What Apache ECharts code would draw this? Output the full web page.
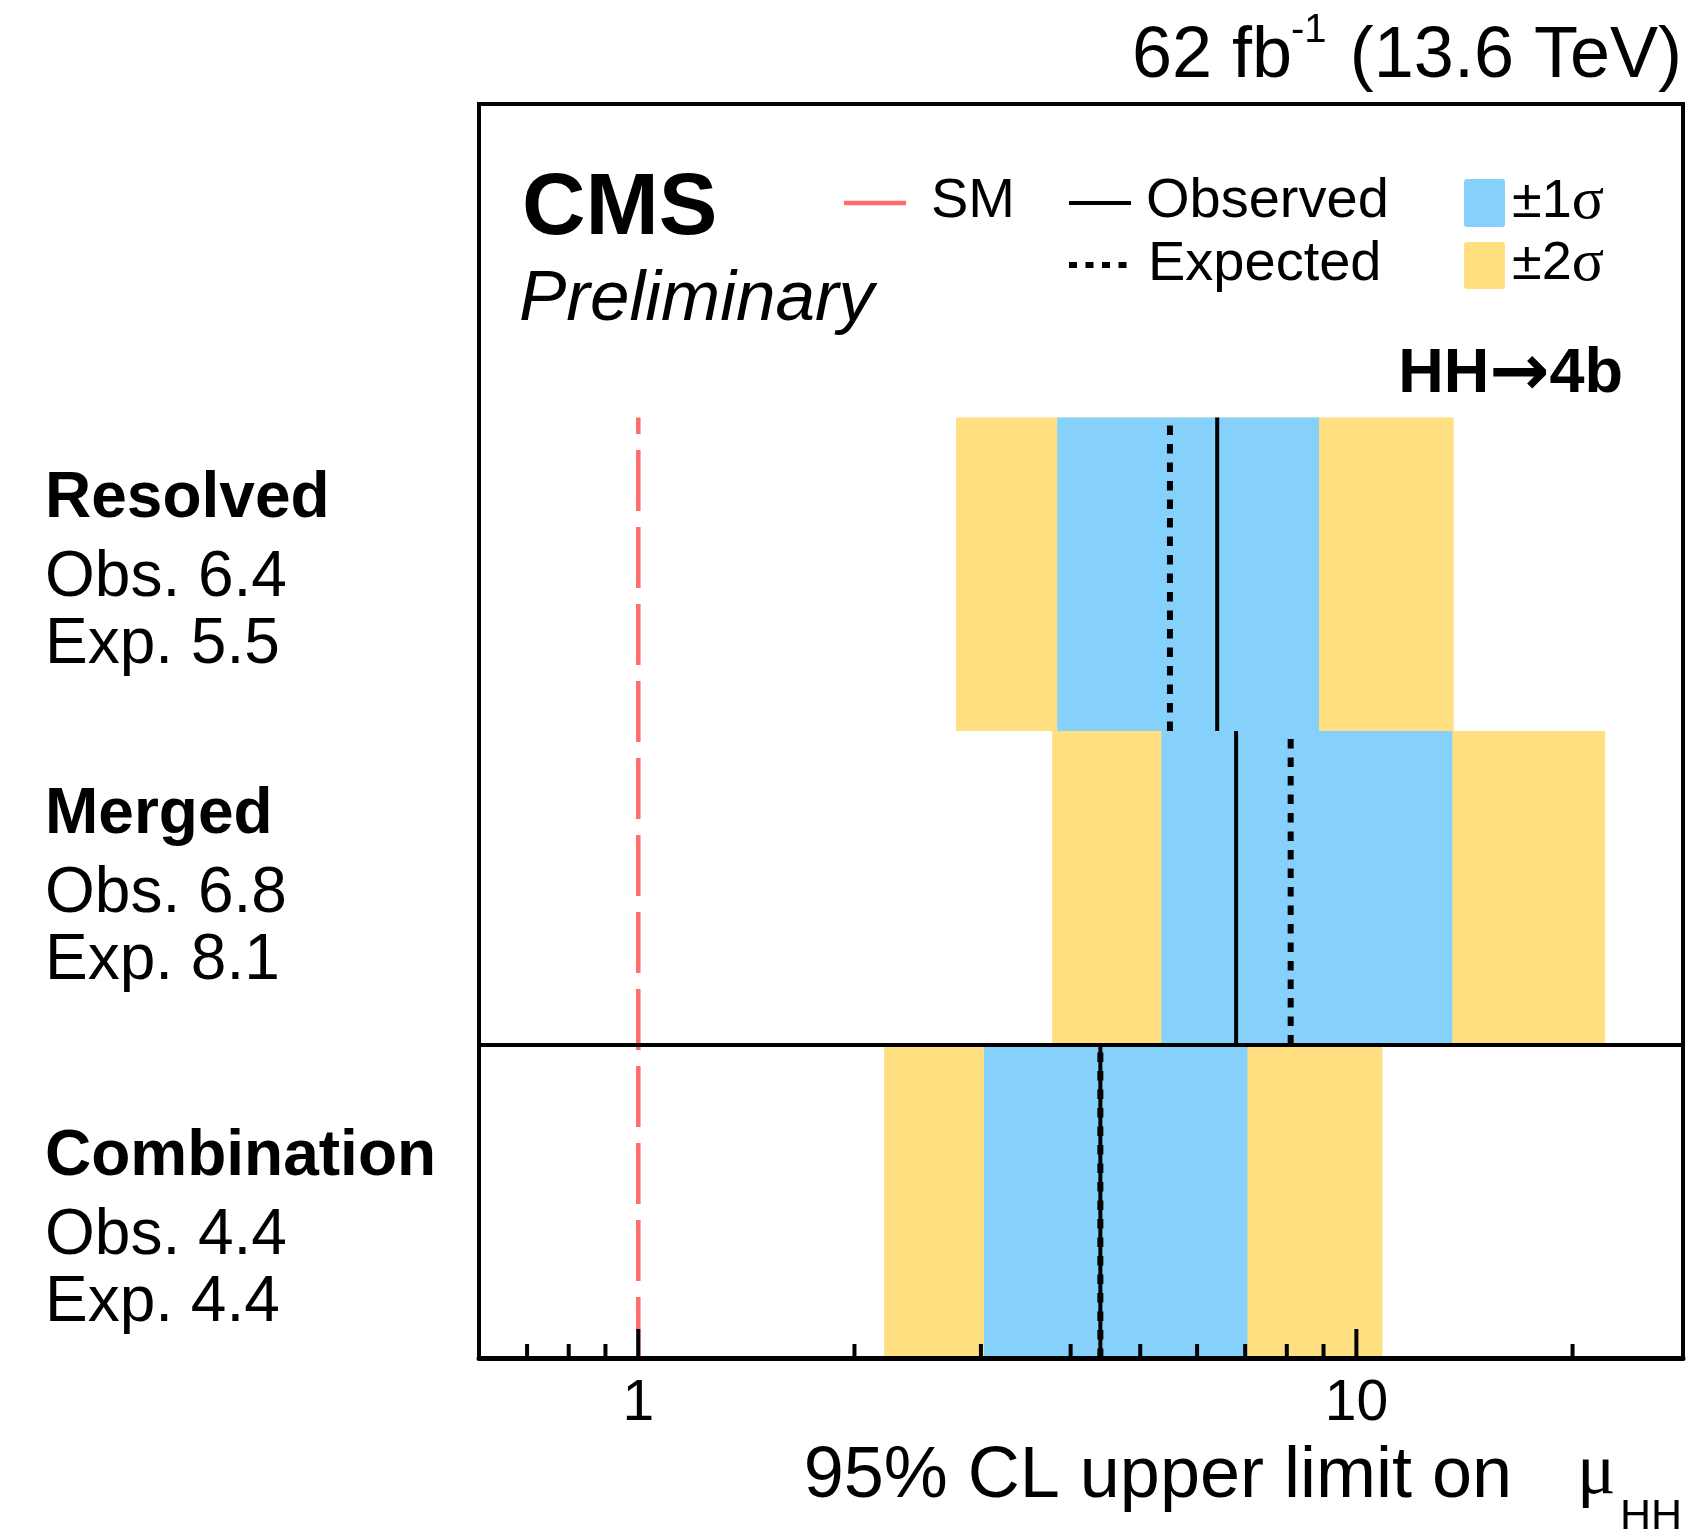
<!DOCTYPE html>
<html>
<head>
<meta charset="utf-8">
<script src="https://cdn.jsdelivr.net/npm/echarts@6/dist/echarts.min.js"></script>
<style>
  html, body { margin: 0; padding: 0; background: #fff; }
  #chart { width: 1696px; height: 1533px; }
</style>
</head>
<body>
<div id="chart"></div>
<script>
// ---- data (rows listed bottom to top) ----
const categories = ['Combination', 'Merged', 'Resolved'];
const observed   = [4.4, 6.8, 6.4];
const expected   = [4.4, 8.1, 5.5];
const band1Lo    = [3.03, 5.35, 3.83];
const band1Hi    = [7.05, 13.6, 8.87];
const band2Lo    = [2.20, 3.77, 2.77];
const band2Hi    = [10.87, 22.2, 13.66];
const smValue    = 1;
const xRange     = [0.6, 28.5];
const majorTicks = [1, 10];
const minorTicks = [0.7, 0.8, 0.9, 2, 3, 4, 5, 6, 7, 8, 9, 20];

// ---- style ----
const BLUE = '#85D1FB';
const YELLOW = '#FFDF7F';
const RED = '#FF6B6B';
const SANS = "'Liberation Sans', Arial, Helvetica, sans-serif";
const SERIF = "'Liberation Serif', 'Times New Roman', serif";
const ARROW_FONT = "'DejaVu Sans', sans-serif";

const chart = echarts.init(document.getElementById('chart'), null, { renderer: 'canvas' });

// text placed by its baseline
function txt(x, baseline, text, size, weight, style, align, family) {
  const font = (style || 'normal') + ' ' + (weight || 'normal') + ' ' + size + 'px ' + (family || SANS);
  return {
    type: 'text', x: x, y: baseline - 0.28 * size, silent: true,
    style: {
      text: text, font: font, fill: '#000',
      align: align || 'left', textAlign: align || 'left',
      verticalAlign: 'middle', textVerticalAlign: 'middle'
    }
  };
}

// mixed-font text placed by its baseline
function richTxt(x, baseline, size, text, rich, align) {
  return {
    type: 'text', x: x, y: baseline - 0.28 * size, silent: true,
    style: {
      text: text, rich: rich,
      align: align || 'left', textAlign: align || 'left',
      verticalAlign: 'middle', textVerticalAlign: 'middle'
    }
  };
}

const graphics = [];
// header
graphics.push(txt(1132, 77, '62 fb', 72));
graphics.push(txt(1291, 42, '-1', 40));
graphics.push(txt(1682, 77, '(13.6 TeV)', 72, 'normal', 'normal', 'right'));
graphics.push(txt(522, 234, 'CMS', 88, 'bold'));
graphics.push(txt(519, 320, 'Preliminary', 71, 'normal', 'italic'));
graphics.push(richTxt(1623, 392, 63, '{a|HH}{r|\u2192}{a|4b}', {
  a: { font: 'bold 63px ' + SANS, fill: '#000', color: '#000' },
  r: { font: 'bold 72px ' + ARROW_FONT, fill: '#000', color: '#000', padding: [4, 0, 0, 0] }
}, 'right'));

// legend
graphics.push({ type: 'line', silent: true, shape: { x1: 844, y1: 203, x2: 906, y2: 203 }, style: { stroke: RED, lineWidth: 4.5 } });
graphics.push(txt(931, 217, 'SM', 56));
graphics.push({ type: 'line', silent: true, shape: { x1: 1069, y1: 203, x2: 1131, y2: 203 }, style: { stroke: '#000', lineWidth: 4 } });
graphics.push(txt(1146, 217, 'Observed', 56));
graphics.push({ type: 'line', silent: true, shape: { x1: 1069, y1: 265, x2: 1131, y2: 265 }, style: { stroke: '#000', lineWidth: 6, lineDash: [8, 8.5] } });
graphics.push(txt(1148, 280, 'Expected', 56));
graphics.push({ type: 'rect', silent: true, shape: { x: 1464, y: 179, width: 41, height: 48, r: 3 }, style: { fill: BLUE } });
graphics.push({ type: 'rect', silent: true, shape: { x: 1464, y: 242, width: 41, height: 47, r: 3 }, style: { fill: YELLOW } });
['\u00b11', '\u00b12'].forEach(function (s, i) {
  const base = i === 0 ? 217 : 279;
  graphics.push(richTxt(1512, base, 54, '{a|' + s + '}{s|\u03c3}', {
    a: { font: 'normal 54px ' + SANS, fill: '#000', color: '#000' },
    s: { font: 'normal 60px ' + SERIF, fill: '#000', color: '#000' }
  }));
});

// row labels on the left
const labelBase = [1175, 833, 517];
categories.forEach(function (name, i) {
  graphics.push(txt(45, labelBase[i], name, 64, 'bold'));
  graphics.push(txt(45, labelBase[i] + 79, 'Obs. ' + observed[i].toFixed(1), 64));
  graphics.push(txt(45, labelBase[i] + 146, 'Exp. ' + expected[i].toFixed(1), 64));
});

// x axis title
graphics.push(txt(1512, 1497, '95% CL upper limit on', 72, 'normal', 'normal', 'right'));
graphics.push(txt(1577, 1494, '\u03bc', 72, 'normal', 'normal', 'left', SERIF));
graphics.push(txt(1620, 1529, 'HH', 43));

// ---- series data ----
const bandData = categories.map(function (c, i) { return [i, band2Lo[i], band1Lo[i], band1Hi[i], band2Hi[i]]; });
const limitData = categories.map(function (c, i) { return [i, observed[i], expected[i]]; });
const tickData = majorTicks.map(function (v) { return [v, 1]; })
  .concat(minorTicks.map(function (v) { return [v, 0]; }));

function renderBands(params, api) {
  const row = api.value(0);
  function rect(a, b, color) {
    const p0 = api.coord([a, row + 1]);
    const p1 = api.coord([b, row]);
    return { type: 'rect', shape: { x: p0[0], y: p0[1], width: p1[0] - p0[0], height: p1[1] - p0[1] }, style: { fill: color } };
  }
  return { type: 'group', children: [
    rect(api.value(1), api.value(4), YELLOW),
    rect(api.value(2), api.value(3), BLUE)
  ] };
}

function renderLimits(params, api) {
  const row = api.value(0);
  const o0 = api.coord([api.value(1), row]), o1 = api.coord([api.value(1), row + 1]);
  const e0 = api.coord([api.value(2), row]), e1 = api.coord([api.value(2), row + 1]);
  return { type: 'group', children: [
    { type: 'line', shape: { x1: o0[0], y1: o0[1], x2: o1[0], y2: o1[1] }, style: { stroke: '#000', lineWidth: 4 } },
    { type: 'line', shape: { x1: e0[0], y1: e0[1], x2: e1[0], y2: e1[1] }, style: { stroke: '#000', lineWidth: 6, lineDash: [9.5, 9] } }
  ] };
}

function renderTicks(params, api) {
  const p = api.coord([api.value(0), 0]);
  const len = api.value(1) ? 29 : 14;
  return { type: 'line', shape: { x1: p[0], y1: p[1], x2: p[0], y2: p[1] - len }, style: { stroke: '#000', lineWidth: 4 } };
}

const option = {
  animation: false,
  backgroundColor: '#fff',
  grid: {
    left: 479, right: 13, top: 104, bottom: 175,
    show: true, borderColor: '#000', borderWidth: 4,
    backgroundColor: 'rgba(0,0,0,0)', z: 10
  },
  xAxis: {
    type: 'log', logBase: 10, min: xRange[0], max: xRange[1], z: 10,
    axisLine: { show: true, lineStyle: { color: '#000', width: 5 } },
    axisTick: { show: false },
    splitLine: { show: false },
    minorTick: { show: false },
    axisLabel: {
      show: true, color: '#000', fontSize: 57, fontFamily: SANS, margin: 18,
      showMinLabel: true, showMaxLabel: true,
      formatter: function (v) {
        for (let k = 0; k < majorTicks.length; k++) {
          if (Math.abs(v - majorTicks[k]) < 1e-6 * majorTicks[k]) return String(majorTicks[k]);
        }
        return '';
      }
    }
  },
  yAxis: {
    type: 'value', min: 0, max: 4, show: false
  },
  graphic: { elements: graphics },
  series: [
    {
      name: 'Expected \u00b11\u03c3 / \u00b12\u03c3', type: 'custom', z: 2,
      renderItem: renderBands, data: bandData,
      encode: { x: [1, 2, 3, 4], y: 0 }, silent: true
    },
    {
      name: 'SM', type: 'line', z: 3, symbol: 'none', silent: true,
      data: [[smValue, 0], [smValue, categories.length]],
      lineStyle: { color: RED, width: 4.5, type: [61, 16] },
      markLine: {
        silent: true, symbol: ['none', 'none'], label: { show: false },
        lineStyle: { color: '#000', width: 4, type: 'solid' },
        data: [{ yAxis: 1 }]
      }
    },
    {
      name: 'Observed / Expected', type: 'custom', z: 4,
      renderItem: renderLimits, data: limitData,
      encode: { x: [1, 2], y: 0 }, silent: true
    },
    {
      name: 'ticks', type: 'custom', z: 6,
      renderItem: renderTicks, data: tickData,
      encode: { x: 0, y: 1 }, silent: true
    }
  ]
};

chart.setOption(option);
</script>
</body>
</html>
